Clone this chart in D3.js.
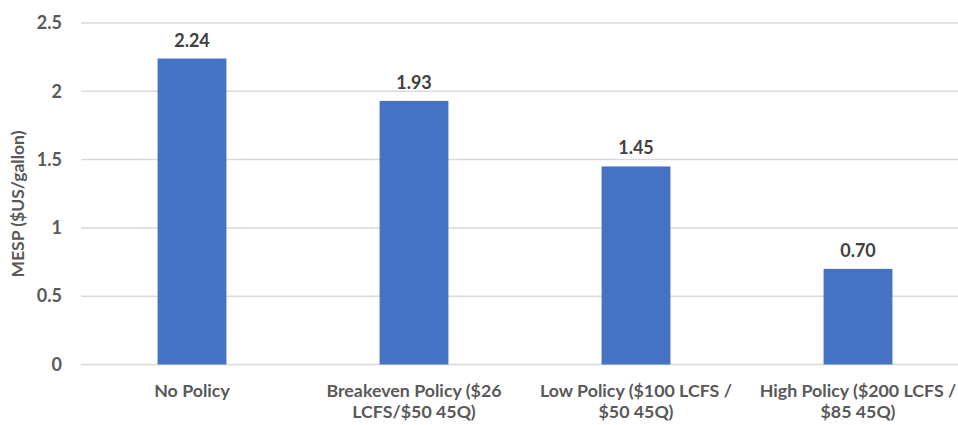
<!DOCTYPE html>
<html>
<head>
<meta charset="utf-8">
<script src="https://cdn.jsdelivr.net/npm/d3@7/dist/d3.min.js"></script>
<style>
  html, body { margin: 0; padding: 0; background: #fff; }
  svg { display: block; }
</style>
</head>
<body>
<svg id="chart" width="958" height="425"></svg>
<script>
const categories = [
  ["No Policy"],
  ["Breakeven Policy ($26", "LCFS/$50 45Q)"],
  ["Low Policy ($100 LCFS /", "$50 45Q)"],
  ["High Policy ($200 LCFS /", "$85 45Q)"]
];
const values = [2.24, 1.93, 1.45, 0.70];
const valueLabels = ["2.24", "1.93", "1.45", "0.70"];
const yTicks = [0, 0.5, 1, 1.5, 2, 2.5];
const yTickLabels = ["0", "0.5", "1", "1.5", "2", "2.5"];
const yTitle = "MESP ($US/gallon)";

const svg = d3.select("#chart");
const font = "Lato, 'Open Sans', sans-serif";
const plotLeft = 81, plotRight = 969, plotTop = 23, plotBottom = 364.5;

const x = d3.scaleBand().domain(d3.range(values.length)).range([plotLeft, plotRight]).paddingInner(0.69).paddingOuter(0.345);
const y = d3.scaleLinear().domain([0, 2.5]).range([plotBottom, plotTop]);

// gridlines
svg.append("g").selectAll("line").data(yTicks).join("line")
  .attr("x1", plotLeft).attr("x2", 958)
  .attr("y1", d => y(d)).attr("y2", d => y(d))
  .attr("stroke", "#d9d9d9").attr("stroke-width", 1.5);

// y axis tick labels
const yAxis = d3.axisLeft(y).tickValues(yTicks).tickSize(0).tickPadding(0)
  .tickFormat((d, i) => yTickLabels[i]);
const ya = svg.append("g").attr("transform", `translate(62,0)`).call(yAxis);
ya.select(".domain").remove();
ya.selectAll("text").attr("font-family", font).attr("font-weight", "bold")
  .attr("font-size", 18).attr("fill", "#595959");

// bars
svg.append("g").selectAll("rect").data(values).join("rect")
  .attr("x", (d, i) => x(i)).attr("width", x.bandwidth())
  .attr("y", d => y(d)).attr("height", d => y(0) - y(d))
  .attr("fill", "#4472C4");

// value labels
svg.append("g").selectAll("text").data(values).join("text")
  .attr("x", (d, i) => x(i) + x.bandwidth() / 2)
  .attr("y", d => y(d) - 12)
  .attr("text-anchor", "middle")
  .attr("font-family", font).attr("font-weight", "bold")
  .attr("font-size", 18).attr("fill", "#404040")
  .text((d, i) => valueLabels[i]);

// category labels
const cat = svg.append("g").selectAll("text").data(categories).join("text")
  .attr("x", (d, i) => x(i) + x.bandwidth() / 2)
  .attr("y", 397)
  .attr("text-anchor", "middle")
  .attr("font-family", font).attr("font-weight", "bold")
  .attr("font-size", 17.8).attr("fill", "#595959");
cat.selectAll("tspan").data(d => d).join("tspan")
  .attr("x", function() { return d3.select(this.parentNode).attr("x"); })
  .attr("dy", (d, i) => i === 0 ? 0 : 21)
  .text(d => d);

// y title
svg.append("text")
  .attr("transform", `translate(24,204) rotate(-90)`)
  .attr("text-anchor", "middle")
  .attr("font-family", font).attr("font-weight", "bold")
  .attr("font-size", 17.5).attr("fill", "#595959")
  .text(yTitle);
</script>
</body>
</html>
